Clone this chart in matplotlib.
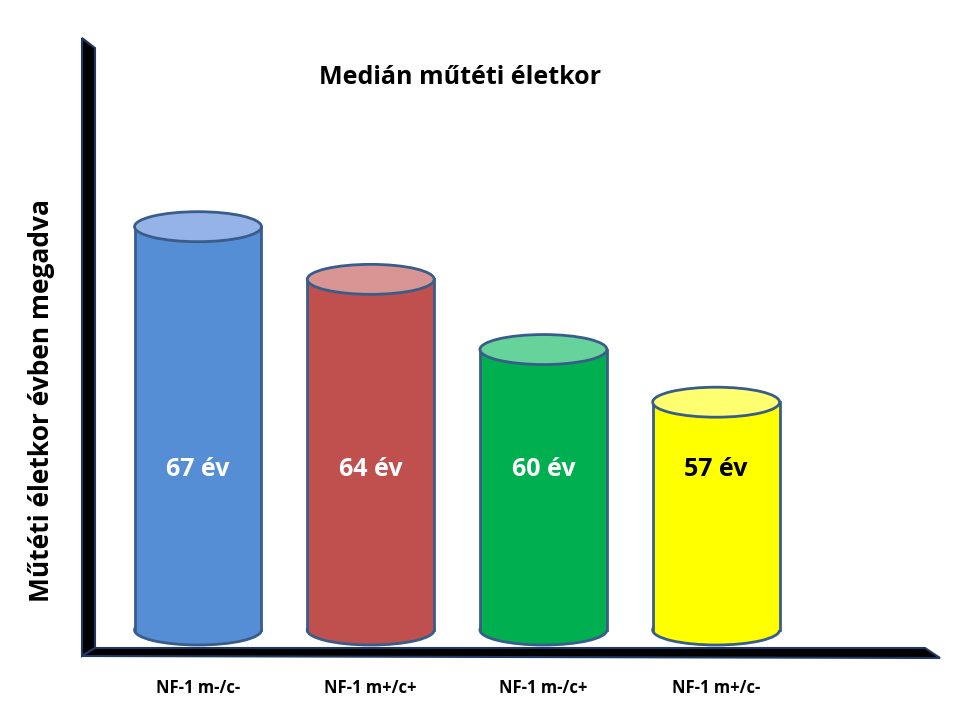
import matplotlib
matplotlib.use("Agg")
import matplotlib.pyplot as plt
from matplotlib.patches import Rectangle, Ellipse, Polygon

categories = ["NF-1 m-/c-", "NF-1 m+/c+", "NF-1 m-/c+", "NF-1 m+/c-"]
values = [67, 64, 60, 57]
labels = ["67 év", "64 év", "60 év", "57 év"]
body = ["#558ed5", "#c0504d", "#00b050", "#ffff00"]
tops = ["#95b3e6", "#d99594", "#66d49a", "#ffff70"]
txtc = ["white", "white", "white", "black"]

plt.rcParams['font.family'] = ['Open Sans', 'DejaVu Sans']
fig = plt.figure(figsize=(9.6, 7.2), dpi=100)
ax = fig.add_axes([0, 0, 1, 1])
k = 17.55
base = 44.02
ax.set_xlim(-1.1465, 4.412)
ax.set_ylim(base - 90/k, base + 630/k)
ax.axis('off')

w = 0.735
eh = 30/k
edge = "#385d8a"
for i, v in enumerate(values):
    ax.add_patch(Ellipse((i, base), w, eh, fc=body[i], ec=edge, lw=2, zorder=2))
    ax.add_patch(Rectangle((i - w/2, base), w, v - base, fc=body[i], ec='none', zorder=3))
    ax.plot([i - w/2, i - w/2], [base, v], color=edge, lw=2, zorder=4)
    ax.plot([i + w/2, i + w/2], [base, v], color=edge, lw=2, zorder=4)
    ax.add_patch(Ellipse((i, v), w, eh, fc=tops[i], ec=edge, lw=2, zorder=5))
    ax.text(i, base + 160/k, labels[i], color=txtc[i], ha='center', va='center',
            fontsize=18, fontweight='bold', zorder=6)
    ax.text(i, base - 58/k, categories[i], ha='center', va='center', fontsize=12, fontweight='bold')

def P(pts):
    return [(x/960, 1 - y/720) for x, y in pts]

fig.patches.append(Polygon(P([(82, 38), (95, 48), (95, 648), (82, 656)]), closed=True,
                           fc='black', ec='#1f3864', lw=1.5, transform=fig.transFigure))
fig.patches.append(Polygon(P([(82, 656), (95, 648), (925, 648), (940, 658)]), closed=True,
                           fc='black', ec='#1f3864', lw=1.5, transform=fig.transFigure))

fig.text(460/960, 1 - 78/720, "Medián műtéti életkor", ha='center', va='center',
         fontsize=18, fontweight='bold')
fig.text(42/960, 1 - 400/720, "Műtéti életkor évben megadva", ha='center', va='center',
         rotation=90, fontsize=19, fontweight='bold')

fig.savefig("out.png", dpi=100)
